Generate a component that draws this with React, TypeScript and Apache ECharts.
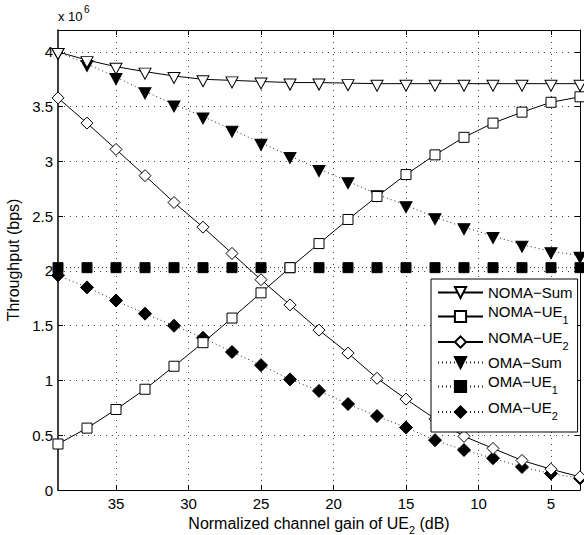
import React, { useEffect, useRef } from "react";
import * as echarts from "echarts";

const FONT = '"Liberation Sans", Arial, Helvetica, sans-serif';

const gainDb = [39, 37, 35, 33, 31, 29, 27, 25, 23, 21, 19, 17, 15, 13, 11, 9, 7, 5, 3];
const nomaSum = [4.0, 3.925, 3.865, 3.82, 3.78, 3.75, 3.74, 3.73, 3.72, 3.72, 3.715, 3.71, 3.71, 3.71, 3.71, 3.71, 3.71, 3.71, 3.71];
const nomaUe1 = [0.42, 0.565, 0.735, 0.92, 1.13, 1.345, 1.57, 1.8, 2.03, 2.25, 2.47, 2.68, 2.88, 3.06, 3.22, 3.35, 3.45, 3.54, 3.59];
const nomaUe2 = [3.58, 3.35, 3.11, 2.87, 2.625, 2.4, 2.16, 1.92, 1.69, 1.46, 1.25, 1.02, 0.83, 0.65, 0.49, 0.38, 0.27, 0.19, 0.12];
const omaSum = [4.0, 3.89, 3.77, 3.64, 3.52, 3.41, 3.29, 3.17, 3.05, 2.93, 2.82, 2.7, 2.6, 2.49, 2.4, 2.32, 2.24, 2.18, 2.14];
const omaUe1 = [2.03, 2.03, 2.03, 2.03, 2.03, 2.03, 2.03, 2.03, 2.03, 2.03, 2.03, 2.03, 2.03, 2.03, 2.03, 2.03, 2.03, 2.03, 2.03];
const omaUe2 = [1.96, 1.85, 1.73, 1.61, 1.5, 1.39, 1.26, 1.14, 1.01, 0.905, 0.785, 0.675, 0.57, 0.455, 0.365, 0.29, 0.21, 0.15, 0.107];

const xTicks = [35, 30, 25, 20, 15, 10, 5];
const yTicks = [0, 0.5, 1, 1.5, 2, 2.5, 3, 3.5, 4];

const DOWN_TRI = "path://M0,0L12,0L6,11Z";

const pairs = (ys: number[]) => gainDb.map((x, i) => [x, ys[i]]);

export default function App() {
  const ref = useRef<HTMLDivElement>(null);
  useEffect(() => {
    if (!ref.current) return;
    const chart = echarts.init(ref.current, undefined, { renderer: "svg" });
    const solid = { color: "#000", width: 1, type: "solid" as const };
    const dotted = { color: "#222", width: 1, type: [1, 3] as any };
    const openItem = { color: "#fff", borderColor: "#000", borderWidth: 1 };
    const fillItem = { color: "#000", borderColor: "#000", borderWidth: 1 };
    const grid = { left: 58, right: 4, top: 30, bottom: 45, outerBoundsMode: "none", containLabel: false };
    const splitStyle = { color: "#444", width: 1, type: [1, 5] as any };
    const axisLineStyle = { color: "#000", width: 1 };
    chart.setOption({
      animation: false,
      backgroundColor: "#fff",
      textStyle: { fontFamily: FONT },
      grid,
      xAxis: [
        {
          type: "value",
          min: 3,
          max: 39,
          inverse: true,
          splitNumber: 7,
          position: "bottom",
          name: "{a|Normalized channel gain of UE}{s|2}{a| (dB)}",
          nameLocation: "middle",
          nameGap: 19,
          nameTextStyle: {
            fontFamily: FONT,
            fontSize: 16,
            color: "#000",
            rich: {
              a: { fontFamily: FONT, fontSize: 16, color: "#000" },
              s: { fontFamily: FONT, fontSize: 11, color: "#000", padding: [13, 0, 0, 0] },
            },
          },
          axisLine: { show: true, onZero: false, lineStyle: axisLineStyle },
          axisTick: { show: true, inside: true, length: 5, customValues: xTicks, lineStyle: { color: "#000" } },
          axisLabel: { show: true, customValues: xTicks, fontFamily: FONT, fontSize: 15, color: "#000", margin: 6 },
          splitLine: { show: true, lineStyle: splitStyle },
        },
        {
          type: "value",
          min: 3,
          max: 39,
          inverse: true,
          splitNumber: 7,
          position: "top",
          axisLine: { show: true, onZero: false, lineStyle: axisLineStyle },
          axisTick: { show: true, inside: true, length: 5, customValues: xTicks, lineStyle: { color: "#000" } },
          axisLabel: { show: false, customValues: xTicks },
          splitLine: { show: false },
        },
      ],
      yAxis: [
        {
          type: "value",
          min: 0,
          max: 4.2,
          interval: 0.5,
          position: "left",
          name: "Throughput (bps)",
          nameLocation: "middle",
          nameGap: 30,
          nameTextStyle: { fontFamily: FONT, fontSize: 16, color: "#000" },
          axisLine: { show: true, onZero: false, lineStyle: { color: "#000", width: 1.5 } },
          axisTick: { show: true, inside: true, length: 5, customValues: yTicks, lineStyle: { color: "#000", width: 1 } },
          axisLabel: {
            show: true,
            customValues: yTicks,
            fontFamily: FONT,
            fontSize: 15,
            color: "#000",
            margin: 5,
            formatter: (v: number) => String(v),
          },
          splitLine: { show: true, lineStyle: splitStyle },
        },
        {
          type: "value",
          min: 0,
          max: 4.2,
          interval: 0.5,
          position: "right",
          axisLine: { show: true, onZero: false, lineStyle: axisLineStyle },
          axisTick: { show: true, inside: true, length: 5, customValues: yTicks, lineStyle: { color: "#000" } },
          axisLabel: { show: false, customValues: yTicks },
          splitLine: { show: false },
        },
      ],
      legend: {
        orient: "vertical",
        left: 431,
        top: 279,
        itemWidth: 45,
        itemHeight: 14,
        itemGap: 4,
        padding: [6, 5, 11, 6],
        borderColor: "#000",
        borderWidth: 1,
        backgroundColor: "#fff",
        borderRadius: 0,
        data: ["NOMA−Sum", "NOMA−UE1", "NOMA−UE2", "OMA−Sum", "OMA−UE1", "OMA−UE2"],
        formatter: (name: string) => {
          const m = name.match(/^(.*?)(\d)$/);
          if (m) return `{a|${m[1]}}{s|${m[2]}}`;
          return `{n|${name}}`;
        },
        textStyle: {
          fontFamily: FONT,
          fontSize: 15,
          color: "#000",
          rich: {
            n: { fontFamily: FONT, fontSize: 15, color: "#000" },
            a: { fontFamily: FONT, fontSize: 15, color: "#000", padding: [0, 0, 10, 0] },
            s: { fontFamily: FONT, fontSize: 11, color: "#000", padding: [7, 0, 0, 0] },
          },
        },
      },
      graphic: [
        {
          type: "text",
          left: 58,
          top: 10,
          style: { text: "x 10", fontFamily: FONT, fontSize: 13, fill: "#000" },
        },
        {
          type: "text",
          left: 84,
          top: 4,
          style: { text: "6", fontFamily: FONT, fontSize: 10, fill: "#000" },
        },
      ],
      series: [
        {
          name: "NOMA−Sum",
          type: "line",
          data: pairs(nomaSum),
          symbol: DOWN_TRI,
          symbolSize: [12, 11],
          symbolOffset: [0, 2],
          lineStyle: solid,
          itemStyle: openItem,
          z: 3,
        },
        {
          name: "NOMA−UE1",
          type: "line",
          data: pairs(nomaUe1),
          symbol: "rect",
          symbolSize: 10,
          lineStyle: solid,
          itemStyle: openItem,
          z: 3,
        },
        {
          name: "NOMA−UE2",
          type: "line",
          data: pairs(nomaUe2),
          symbol: "diamond",
          symbolSize: 12,
          lineStyle: solid,
          itemStyle: openItem,
          z: 3,
        },
        {
          name: "OMA−Sum",
          type: "line",
          data: pairs(omaSum),
          symbol: DOWN_TRI,
          symbolSize: [12, 11],
          symbolOffset: [0, 2],
          lineStyle: dotted,
          itemStyle: fillItem,
          z: 2,
        },
        {
          name: "OMA−UE1",
          type: "line",
          data: pairs(omaUe1),
          symbol: "rect",
          symbolSize: 10,
          lineStyle: dotted,
          itemStyle: fillItem,
          z: 2,
        },
        {
          name: "OMA−UE2",
          type: "line",
          data: pairs(omaUe2),
          symbol: "diamond",
          symbolSize: 13,
          lineStyle: dotted,
          itemStyle: fillItem,
          z: 2,
        },
      ],
    });
    return () => chart.dispose();
  }, []);
  return (
    <div
      ref={ref}
      style={{ position: "fixed", left: 0, top: 0, width: 584, height: 535, background: "#fff" }}
    />
  );
}
